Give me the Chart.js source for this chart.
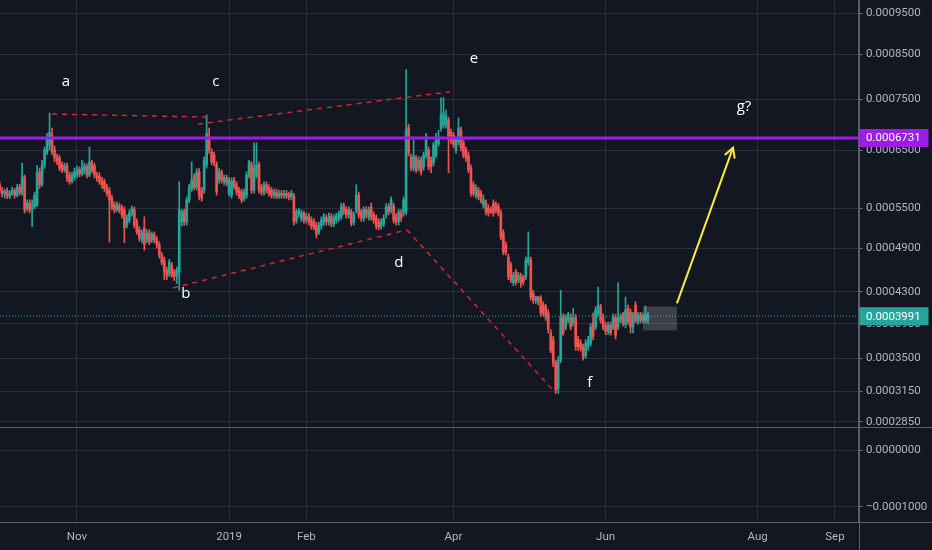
<!DOCTYPE html>
<html><head><meta charset="utf-8">
<script src="https://cdn.jsdelivr.net/npm/chart.js@4.4.1/dist/chart.umd.min.js"></script>
<style>html,body{margin:0;padding:0;background:#131722;overflow:hidden}canvas{display:block}</style>
</head><body>
<canvas id="c" width="932" height="550"></canvas>
<script>
// ---- DATA (daily candles, day 0 = 2018-10-01) ----
const startDate = '2018-10-01';
const open = [
0.000589,0.000580,0.000574,0.000578,0.000570,0.000575,0.000580,0.000572,0.000585,0.000575,
0.000601,0.000551,0.000559,0.000548,0.000553,0.000556,0.000611,0.000592,0.000624,0.000647,
0.000660,0.000678,0.000651,0.000638,0.000636,0.000624,0.000615,0.000622,0.000606,0.000595,
0.000602,0.000606,0.000615,0.000608,0.000613,0.000620,0.000606,0.000627,0.000622,0.000606,
0.000604,0.000597,0.000594,0.000585,0.000580,0.000567,0.000556,0.000548,0.000554,0.000551,
0.000548,0.000524,0.000532,0.000543,0.000548,0.000529,0.000517,0.000502,0.000520,0.000502,
0.000512,0.000502,0.000510,0.000502,0.000495,0.000480,0.000473,0.000459,0.000454,0.000466,
0.000456,0.000451,0.000456,0.000529,0.000545,0.000529,0.000564,0.000583,0.000602,0.000585,
0.000611,0.000580,0.000580,0.000624,0.000673,0.000647,0.000642,0.000624,0.000597,0.000610,
0.000594,0.000601,0.000575,0.000572,0.000597,0.000589,0.000580,0.000577,0.000567,0.000572,
0.000606,0.000624,0.000580,0.000606,0.000624,0.000585,0.000577,0.000589,0.000583,0.000580,
0.000572,0.000577,0.000570,0.000575,0.000572,0.000575,0.000572,0.000569,0.000570,0.000532,
0.000542,0.000535,0.000542,0.000532,0.000537,0.000532,0.000529,0.000524,0.000514,0.000523,
0.000529,0.000535,0.000529,0.000537,0.000526,0.000532,0.000535,0.000538,0.000554,0.000548,
0.000540,0.000545,0.000529,0.000548,0.000572,0.000545,0.000535,0.000548,0.000537,0.000553,
0.000540,0.000535,0.000529,0.000523,0.000526,0.000540,0.000553,0.000548,0.000554,0.000537,
0.000529,0.000543,0.000543,0.000545,0.000694,0.000638,0.000618,0.000636,0.000618,0.000632,
0.000620,0.000641,0.000651,0.000632,0.000627,0.000641,0.000663,0.000692,0.000698,0.000698,
0.000708,0.000684,0.000678,0.000651,0.000665,0.000688,0.000664,0.000651,0.000641,0.000618,
0.000589,0.000572,0.000580,0.000575,0.000556,0.000559,0.000551,0.000548,0.000559,0.000556,
0.000553,0.000543,0.000512,0.000495,0.000477,0.000466,0.000442,0.000456,0.000446,0.000451,
0.000449,0.000450,0.000470,0.000473,0.000428,0.000419,0.000423,0.000422,0.000413,0.000411,
0.000403,0.000379,0.000371,0.000345,0.000318,0.000348,0.000398,0.000386,0.000394,0.000398,
0.000391,0.000397,0.000371,0.000367,0.000363,0.000353,0.000363,0.000367,0.000391,0.000386,
0.000403,0.000411,0.000398,0.000388,0.000381,0.000388,0.000386,0.000397,0.000386,0.000394,
0.000401,0.000389,0.000409,0.000404,0.000386,0.000413,0.000392,0.000401,0.000394,0.000394,
0.000396];
const high = [
0.000594,0.000585,0.000582,0.000584,0.000580,0.000585,0.000583,0.000590,0.000590,0.000627,
0.000606,0.000564,0.000564,0.000564,0.000577,0.000623,0.000618,0.000632,0.000656,0.000682,
0.000722,0.000692,0.000658,0.000643,0.000641,0.000629,0.000627,0.000627,0.000611,0.000611,
0.000618,0.000622,0.000620,0.000632,0.000627,0.000625,0.000656,0.000632,0.000627,0.000611,
0.000610,0.000602,0.000599,0.000590,0.000585,0.000572,0.000561,0.000561,0.000559,0.000556,
0.000553,0.000540,0.000548,0.000554,0.000553,0.000534,0.000522,0.000517,0.000537,0.000517,
0.000517,0.000514,0.000514,0.000507,0.000499,0.000484,0.000477,0.000463,0.000474,0.000470,
0.000460,0.000463,0.000594,0.000549,0.000549,0.000569,0.000590,0.000629,0.000608,0.000617,
0.000617,0.000585,0.000638,0.000718,0.000692,0.000653,0.000647,0.000629,0.000617,0.000615,
0.000606,0.000606,0.000602,0.000601,0.000602,0.000594,0.000585,0.000582,0.000582,0.000611,
0.000632,0.000629,0.000664,0.000664,0.000629,0.000590,0.000594,0.000594,0.000589,0.000585,
0.000582,0.000582,0.000580,0.000580,0.000580,0.000580,0.000577,0.000580,0.000575,0.000549,
0.000551,0.000548,0.000546,0.000543,0.000542,0.000537,0.000534,0.000529,0.000529,0.000537,
0.000542,0.000540,0.000543,0.000542,0.000540,0.000543,0.000546,0.000559,0.000559,0.000553,
0.000553,0.000549,0.000545,0.000589,0.000577,0.000549,0.000553,0.000553,0.000553,0.000559,
0.000545,0.000540,0.000534,0.000534,0.000540,0.000558,0.000558,0.000569,0.000559,0.000542,
0.000549,0.000548,0.000569,0.000814,0.000700,0.000643,0.000675,0.000641,0.000638,0.000638,
0.000647,0.000682,0.000656,0.000638,0.000665,0.000682,0.000688,0.000753,0.000753,0.000728,
0.000714,0.000690,0.000684,0.000675,0.000712,0.000694,0.000669,0.000656,0.000647,0.000624,
0.000594,0.000589,0.000585,0.000580,0.000572,0.000564,0.000556,0.000553,0.000564,0.000561,
0.000558,0.000548,0.000517,0.000499,0.000481,0.000470,0.000456,0.000460,0.000456,0.000455,
0.000452,0.000477,0.000514,0.000477,0.000432,0.000424,0.000424,0.000425,0.000417,0.000414,
0.000407,0.000383,0.000375,0.000348,0.000352,0.000432,0.000402,0.000401,0.000404,0.000402,
0.000409,0.000401,0.000375,0.000371,0.000366,0.000371,0.000375,0.000390,0.000403,0.000411,
0.000436,0.000414,0.000402,0.000392,0.000392,0.000392,0.000402,0.000401,0.000442,0.000402,
0.000404,0.000423,0.000413,0.000408,0.000404,0.000417,0.000404,0.000404,0.000403,0.000412,
0.000404];
const low = [
0.000575,0.000569,0.000567,0.000566,0.000566,0.000572,0.000567,0.000569,0.000572,0.000572,
0.000543,0.000546,0.000543,0.000522,0.000550,0.000553,0.000583,0.000587,0.000618,0.000642,
0.000651,0.000642,0.000629,0.000624,0.000613,0.000610,0.000611,0.000595,0.000590,0.000592,
0.000597,0.000601,0.000603,0.000604,0.000608,0.000601,0.000603,0.000610,0.000601,0.000595,
0.000590,0.000583,0.000578,0.000570,0.000499,0.000548,0.000543,0.000545,0.000543,0.000535,
0.000498,0.000520,0.000528,0.000538,0.000520,0.000510,0.000500,0.000498,0.000487,0.000498,
0.000495,0.000498,0.000498,0.000490,0.000476,0.000466,0.000446,0.000446,0.000450,0.000449,
0.000445,0.000441,0.000432,0.000523,0.000524,0.000524,0.000559,0.000578,0.000580,0.000580,
0.000564,0.000562,0.000575,0.000618,0.000645,0.000624,0.000622,0.000572,0.000592,0.000592,
0.000589,0.000587,0.000570,0.000567,0.000582,0.000572,0.000566,0.000559,0.000562,0.000567,
0.000601,0.000575,0.000575,0.000601,0.000575,0.000572,0.000572,0.000575,0.000570,0.000567,
0.000567,0.000566,0.000566,0.000567,0.000567,0.000566,0.000564,0.000564,0.000524,0.000527,
0.000537,0.000530,0.000527,0.000527,0.000524,0.000518,0.000517,0.000505,0.000510,0.000518,
0.000524,0.000524,0.000524,0.000522,0.000522,0.000527,0.000530,0.000533,0.000541,0.000535,
0.000535,0.000523,0.000524,0.000543,0.000535,0.000530,0.000530,0.000535,0.000532,0.000532,
0.000527,0.000518,0.000517,0.000518,0.000522,0.000535,0.000540,0.000543,0.000527,0.000524,
0.000524,0.000530,0.000538,0.000540,0.000640,0.000613,0.000613,0.000610,0.000613,0.000606,
0.000615,0.000636,0.000615,0.000610,0.000622,0.000636,0.000658,0.000686,0.000692,0.000692,
0.000610,0.000663,0.000655,0.000645,0.000660,0.000649,0.000636,0.000630,0.000610,0.000570,
0.000570,0.000567,0.000564,0.000559,0.000551,0.000540,0.000538,0.000542,0.000538,0.000543,
0.000538,0.000502,0.000480,0.000480,0.000446,0.000442,0.000438,0.000439,0.000442,0.000436,
0.000439,0.000446,0.000466,0.000419,0.000415,0.000415,0.000413,0.000399,0.000399,0.000394,
0.000379,0.000356,0.000341,0.000313,0.000313,0.000345,0.000376,0.000383,0.000391,0.000383,
0.000387,0.000359,0.000359,0.000358,0.000348,0.000350,0.000359,0.000364,0.000371,0.000383,
0.000399,0.000391,0.000383,0.000377,0.000377,0.000376,0.000383,0.000372,0.000383,0.000391,
0.000387,0.000385,0.000389,0.000379,0.000379,0.000391,0.000389,0.000391,0.000391,0.000391,
0.000390];
const close = [
0.000580,0.000574,0.000578,0.000570,0.000575,0.000580,0.000572,0.000585,0.000577,0.000604,
0.000548,0.000559,0.000548,0.000553,0.000572,0.000611,0.000589,0.000624,0.000651,0.000673,
0.000684,0.000647,0.000636,0.000630,0.000618,0.000615,0.000622,0.000601,0.000595,0.000606,
0.000611,0.000615,0.000608,0.000618,0.000622,0.000606,0.000629,0.000615,0.000606,0.000601,
0.000595,0.000589,0.000583,0.000575,0.000564,0.000553,0.000548,0.000556,0.000548,0.000540,
0.000520,0.000535,0.000543,0.000550,0.000524,0.000514,0.000505,0.000512,0.000495,0.000512,
0.000499,0.000510,0.000502,0.000495,0.000480,0.000470,0.000456,0.000451,0.000470,0.000452,
0.000450,0.000459,0.000548,0.000545,0.000529,0.000564,0.000585,0.000597,0.000585,0.000611,
0.000572,0.000567,0.000632,0.000682,0.000651,0.000629,0.000627,0.000577,0.000611,0.000597,
0.000601,0.000592,0.000597,0.000595,0.000587,0.000577,0.000570,0.000564,0.000577,0.000606,
0.000629,0.000580,0.000618,0.000624,0.000580,0.000577,0.000589,0.000580,0.000575,0.000572,
0.000577,0.000570,0.000575,0.000572,0.000575,0.000570,0.000569,0.000575,0.000529,0.000545,
0.000546,0.000543,0.000532,0.000538,0.000529,0.000523,0.000521,0.000510,0.000524,0.000532,
0.000537,0.000529,0.000538,0.000526,0.000535,0.000538,0.000541,0.000554,0.000546,0.000540,
0.000548,0.000527,0.000540,0.000572,0.000540,0.000535,0.000548,0.000540,0.000548,0.000537,
0.000532,0.000523,0.000521,0.000529,0.000535,0.000553,0.000545,0.000564,0.000532,0.000529,
0.000545,0.000535,0.000564,0.000688,0.000645,0.000618,0.000638,0.000615,0.000632,0.000611,
0.000641,0.000669,0.000620,0.000620,0.000660,0.000669,0.000675,0.000718,0.000722,0.000716,
0.000675,0.000669,0.000660,0.000669,0.000692,0.000655,0.000641,0.000636,0.000615,0.000575,
0.000575,0.000583,0.000569,0.000564,0.000564,0.000545,0.000543,0.000546,0.000543,0.000548,
0.000543,0.000506,0.000484,0.000484,0.000450,0.000446,0.000452,0.000443,0.000452,0.000442,
0.000443,0.000473,0.000476,0.000423,0.000419,0.000423,0.000417,0.000403,0.000403,0.000398,
0.000383,0.000359,0.000345,0.000316,0.000348,0.000398,0.000379,0.000397,0.000401,0.000386,
0.000397,0.000363,0.000363,0.000361,0.000351,0.000367,0.000371,0.000386,0.000375,0.000407,
0.000413,0.000394,0.000386,0.000381,0.000388,0.000379,0.000398,0.000376,0.000398,0.000398,
0.000391,0.000407,0.000392,0.000386,0.000401,0.000394,0.000401,0.000394,0.000399,0.000401,
0.0003991];

const monthTickDays = [31, 92, 123, 182, 243, 304, 335];
const monthTickLabels = ['Nov', '2019', 'Feb', 'Apr', 'Jun', 'Aug', 'Sep'];
const priceTicks = [0.00095, 0.00085, 0.00075, 0.00065, 0.00055, 0.00049, 0.00043, 0.00039, 0.00035, 0.000315, 0.000285];
const oscTicks = [0, -0.0001];

const resistanceLevel = 0.0006731;
const lastPrice = 0.0003991;

const waveLabels = ['a', 'b', 'c', 'd', 'e', 'f', 'g?'];
const waveLabelDays = [26.6, 74.7, 86.7, 160.1, 190.2, 236.7, 298.5];
const waveLabelPrices = [0.000787, 0.000428, 0.000787, 0.000469, 0.000840, 0.000324, 0.000734];

const topLineAC_days = [21.0, 83.1];
const topLineAC_prices = [0.000720, 0.000714];
const topLineCE_days = [79.5, 180.6];
const topLineCE_prices = [0.000700, 0.000766];
const lowLineBD_days = [69.5, 163.3];
const lowLineBD_prices = [0.000435, 0.000517];
const lowLineDF_days = [163.3, 222.7];
const lowLineDF_prices = [0.000517, 0.000314];

const arrowDays = [271.6, 294.1];
const arrowPrices = [0.000415, 0.000655];
const rangeBoxDays = [258.0, 271.6];
const rangeBoxPrices = [0.000411, 0.000382];

// ---- view ----
const X_MIN = 0.12, X_MAX = 344.43;
const Y_MIN = 0.0002805, Y_MAX = 0.0009849;
const OSC_MIN = -0.0001268, OSC_MAX = 0.0000423;
const LOG_OFFSET = 0.0001;

class OffsetLogScale extends Chart.LinearScale {
  static id = 'offsetLog';
  static defaults = {};
  configure() {
    super.configure();
    this._tS = Math.log(this.min + LOG_OFFSET);
    this._tE = Math.log(this.max + LOG_OFFSET);
  }
  getPixelForValue(v) {
    if (v === null || v === undefined || isNaN(v)) return NaN;
    return this.getPixelForDecimal((Math.log(v + LOG_OFFSET) - this._tS) / (this._tE - this._tS));
  }
  getValueForPixel(px) {
    const d = this.getDecimalForPixel(px);
    return Math.exp(this._tS + d * (this._tE - this._tS)) - LOG_OFFSET;
  }
}
Chart.register(OffsetLogScale);

const UP = '#26a69a', DOWN = '#ef5350';
const candleColors = close.map((c, i) => c >= open[i] ? UP : DOWN);
const AXIS_FONT = {family: 'Roboto', size: 11.5};
const TEXT = '#b2b5be';
const GRID = '#2a2e39';

function seg(days, prices) { return days.map((d, i) => ({x: d, y: prices[i]})); }
function lineDs(data, color, width, dash) {
  return {type: 'line', data, borderColor: color, borderWidth: width, borderDash: dash || [],
    pointRadius: 0, tension: 0, fill: false, yAxisID: 'y', xAxisID: 'x', order: 0, clip: false};
}
function noPad(s) { s.paddingTop = 0; s.paddingBottom = 0; s.paddingLeft = 0; s.paddingRight = 0; }

const overlay = {
  id: 'overlay',
  afterDatasetsDraw(chart) {
    const {ctx} = chart; const x = chart.scales.x, y = chart.scales.y;
    ctx.save();
    const bx0 = x.getPixelForValue(rangeBoxDays[0]), bx1 = x.getPixelForValue(rangeBoxDays[1]);
    const by0 = y.getPixelForValue(rangeBoxPrices[0]), by1 = y.getPixelForValue(rangeBoxPrices[1]);
    ctx.fillStyle = 'rgba(150,153,163,0.32)';
    ctx.fillRect(bx0, by0, bx1 - bx0, by1 - by0);
    const ax0 = x.getPixelForValue(arrowDays[0]), ay0 = y.getPixelForValue(arrowPrices[0]);
    const ax1 = x.getPixelForValue(arrowDays[1]), ay1 = y.getPixelForValue(arrowPrices[1]);
    const ang = Math.atan2(ay1 - ay0, ax1 - ax0);
    ctx.strokeStyle = '#ffeb3b'; ctx.lineWidth = 2;
    ctx.beginPath();
    ctx.moveTo(ax1 - 11 * Math.cos(ang - 0.5), ay1 - 11 * Math.sin(ang - 0.5));
    ctx.lineTo(ax1, ay1);
    ctx.lineTo(ax1 - 11 * Math.cos(ang + 0.5), ay1 - 11 * Math.sin(ang + 0.5));
    ctx.stroke();
    ctx.fillStyle = '#ffffff';
    ctx.font = '15px "Open Sans"';
    ctx.textAlign = 'center'; ctx.textBaseline = 'middle';
    waveLabels.forEach((t, i) => ctx.fillText(t, x.getPixelForValue(waveLabelDays[i]), y.getPixelForValue(waveLabelPrices[i])));
    ctx.restore();
  },
  afterDraw(chart) {
    const {ctx, chartArea} = chart; const y = chart.scales.y, y2 = chart.scales.y2;
    const W = chart.width, H = chart.height;
    ctx.save();
    ctx.strokeStyle = '#5d606b'; ctx.lineWidth = 1;
    ctx.beginPath();
    ctx.moveTo(0, Math.round(y2.top) + 0.5); ctx.lineTo(W, Math.round(y2.top) + 0.5);
    ctx.moveTo(0, Math.round(y2.bottom) + 0.5); ctx.lineTo(W, Math.round(y2.bottom) + 0.5);
    ctx.moveTo(Math.round(chartArea.right) + 0.5, 0); ctx.lineTo(Math.round(chartArea.right) + 0.5, H);
    ctx.stroke();
    const boxes = [[resistanceLevel, '#9c1de8'], [lastPrice, UP]];
    ctx.font = '11.5px Roboto'; ctx.textBaseline = 'middle'; ctx.textAlign = 'left';
    boxes.forEach(([v, col]) => {
      const py = y.getPixelForValue(v);
      ctx.fillStyle = col;
      ctx.fillRect(chartArea.right + 1, py - 9, 69, 18);
      ctx.fillStyle = '#ffffff';
      ctx.fillText(v.toFixed(7), chartArea.right + 7.5, py + 0.5);
    });
    ctx.restore();
  }
};

new Chart(document.getElementById('c'), {
  type: 'bar',
  data: {
    datasets: [
      lineDs(seg([X_MIN, X_MAX], [resistanceLevel, resistanceLevel]), '#9c1de8', 3),
      lineDs(seg([X_MIN, X_MAX], [lastPrice, lastPrice]), UP, 1, [1, 2]),
      lineDs(seg(topLineAC_days, topLineAC_prices), '#d02a2a', 1.5, [5, 5]),
      lineDs(seg(topLineCE_days, topLineCE_prices), '#d02a2a', 1.5, [5, 5]),
      lineDs(seg(lowLineBD_days, lowLineBD_prices), '#d02a2a', 1.5, [5, 5]),
      lineDs(seg(lowLineDF_days, lowLineDF_prices), '#d02a2a', 1.5, [5, 5]),
      lineDs(seg(arrowDays, arrowPrices), '#ffeb3b', 2),
      {type: 'bar', data: close.map((c, i) => ({x: i, y: [open[i], c]})), backgroundColor: candleColors,
        barThickness: 2, grouped: false, minBarLength: 1, yAxisID: 'y', xAxisID: 'x', order: 1},
      {type: 'bar', data: close.map((c, i) => ({x: i, y: [low[i], high[i]]})), backgroundColor: candleColors,
        barThickness: 1, grouped: false, yAxisID: 'y', xAxisID: 'x', order: 2}
    ]
  },
  options: {
    responsive: false, animation: false, devicePixelRatio: 1,
    layout: {padding: 0},
    plugins: {legend: {display: false}, tooltip: {enabled: false}},
    scales: {
      x: {type: 'linear', min: X_MIN, max: X_MAX, offset: false,
        grid: {color: GRID, offset: false, drawTicks: false},
        border: {display: false},
        afterBuildTicks: s => { s.ticks = monthTickDays.map(v => ({value: v})); },
        afterFit: s => { s.height = 28.3; noPad(s); },
        ticks: {color: TEXT, font: AXIS_FONT, padding: 9, maxRotation: 0, autoSkip: false,
          callback: (v, i) => monthTickLabels[i]}},
      y: {type: 'offsetLog', position: 'right', stack: 'panes', stackWeight: 426.7,
        min: Y_MIN, max: Y_MAX, bounds: 'data',
        grid: {color: GRID, tickColor: '#787b86', tickLength: 4},
        border: {color: '#5d606b'},
        afterBuildTicks: s => { s.ticks = priceTicks.map(v => ({value: v})); },
        afterFit: s => { s.width = 73.5; noPad(s); },
        ticks: {color: TEXT, font: AXIS_FONT, padding: 3.5, autoSkip: false, callback: v => v.toFixed(7)}},
      y2: {type: 'linear', position: 'right', stack: 'panes', stackWeight: 95,
        min: OSC_MIN, max: OSC_MAX, bounds: 'data',
        grid: {color: GRID, tickColor: '#787b86', tickLength: 4},
        border: {color: '#5d606b'},
        afterBuildTicks: s => { s.ticks = oscTicks.map(v => ({value: v})); },
        afterFit: s => { s.width = 73.5; noPad(s); },
        ticks: {color: TEXT, font: AXIS_FONT, padding: 3.5, autoSkip: false,
          callback: v => v === 0 ? '0.0000000' : '\u2212' + Math.abs(v).toFixed(7)}}
    }
  },
  plugins: [overlay]
});
</script>
</body></html>
